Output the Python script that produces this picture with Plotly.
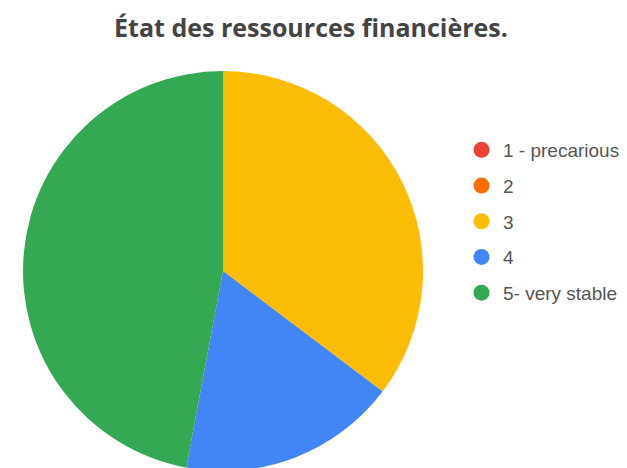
import plotly.graph_objects as go

title_text = "État des ressources financières."
labels = ["1 - precarious", "2", "3", "4", "5- very stable"]
values = [0, 0, 6, 3, 8]
colors = ["#EA4335", "#FF6D01", "#FBBC04", "#4285F4", "#34A853"]

W, H = 627, 468

fig = go.Figure()
fig.add_trace(go.Pie(
    labels=labels,
    values=values,
    marker=dict(colors=colors, line=dict(width=0)),
    sort=False,
    direction="clockwise",
    rotation=0,
    textinfo="none",
    hoverinfo="label+value+percent",
    showlegend=False,
    domain=dict(x=[15 / W, 415 / W], y=[1 - 463 / H, 1 - 63 / H]),
))

for i, (lab, col) in enumerate(zip(labels, colors)):
    fig.add_trace(go.Scatter(
        x=[None], y=[None], mode="markers",
        marker=dict(symbol="circle", size=17, color=col),
        name=lab, legendgroup=f"g{i}", showlegend=True,
    ))

fig.update_layout(
    width=W, height=H,
    margin=dict(l=0, r=0, t=0, b=0),
    paper_bgcolor="white", plot_bgcolor="white",
    title=dict(
        text=title_text,
        x=303 / W, xanchor="center",
        y=1 - 20 / H, yanchor="middle",
        font=dict(family="Open Sans", size=25, color="#444444", weight="bold"),
    ),
    xaxis=dict(visible=False),
    yaxis=dict(visible=False),
    legend=dict(
        x=452 / W, xanchor="left",
        y=1 - 123 / H, yanchor="top",
        font=dict(family="Liberation Sans, Arial", size=19, color="#555555"),
        tracegroupgap=8,
        itemsizing="trace",
        itemwidth=33,
        bgcolor="rgba(0,0,0,0)",
    ),
)

fig.write_html("out.html")
